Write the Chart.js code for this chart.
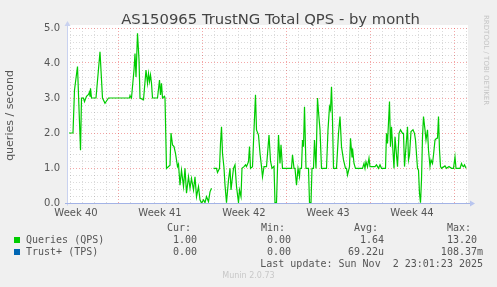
<!DOCTYPE html>
<html>
<head>
<meta charset="utf-8">
<script src="https://cdn.jsdelivr.net/npm/chart.js@4"></script>
<style>
  body { margin: 0; background: #f0f0f0; }
  #wrap { position: relative; width: 497px; height: 287px; overflow: hidden; }
  #munin-month { position: absolute; left: 0; top: 0; }
  .txt { position: absolute; white-space: pre; line-height: 12px; color: #555; }
  .mono { font-family: 'DejaVu Sans Mono', monospace; font-size: 10px; }
  .title { font-family: 'DejaVu Sans', sans-serif; font-size: 14.8px; line-height: 18px; color: #444; }
  .swatch { position: absolute; width: 6px; height: 6px; }
  .rrd { position: absolute; left: 482px; top: 15px; font-family: 'DejaVu Sans', sans-serif;
         font-size: 7px; color: #c4c4c4; writing-mode: vertical-rl; white-space: nowrap; }
  .munin { font-family: 'DejaVu Sans', sans-serif; font-size: 8px; color: #c8c8c8; }
</style>
</head>
<body>
<div id="wrap">
  <canvas id="munin-month" width="497" height="287"></canvas>
  <div class="txt title" style="left:0; width:541px; top:10px; text-align:center;">AS150965 TrustNG Total QPS - by month</div>
  <div class="rrd">RRDTOOL / TOBI OETIKER</div>
  <div id="legend"></div>
  <div class="txt munin" style="left:0; width:497px; top:270px; text-align:center;">Munin 2.0.73</div>
</div>
<script>
// hours since Mon Sep 29 00:00 (start of week 40), one entry per point
const hours = [
  70, 78, 81, 87, 93, 95, 99, 101, 105, 109, 111, 112, 113, 115,
  124, 132, 137, 142, 149, 191, 192, 195, 197, 200, 202, 204, 207, 210, 212,
  219, 224, 227, 229, 231, 233, 235, 237, 247, 251, 253, 255, 257, 261, 262,
  265, 272, 274, 277, 280, 283, 287, 289, 292, 295, 299, 302, 305, 309, 312,
  315, 319, 322, 325, 329, 332, 335, 339, 342, 345, 349, 352, 355,
  357,
  359, 365, 367, 371, 373, 375, 377, 380, 382, 385, 389, 392, 394, 397, 399,
  402, 405, 409, 411, 414, 416, 420, 423, 425, 429, 431, 433, 437, 440, 443,
  445, 449, 452, 455, 457, 460, 465, 470, 473, 476, 480, 482, 485,
  489, 492, 494, 497, 515, 517, 520, 522, 525, 528, 531, 532, 535, 537, 539,
  541, 544, 549, 551, 554, 556, 559, 561, 564, 567, 569, 572, 575, 585, 588,
  591, 593, 595, 597, 599, 605, 609, 612, 615, 617, 619, 623, 625, 627, 631,
  633, 636, 637, 640, 643, 657, 660, 662, 664, 667, 670, 672,
  682, 685, 689, 692, 695, 703, 705, 707, 711, 713, 715, 717, 720, 722, 725,
  727, 730, 733, 737, 739, 741, 744, 747, 749, 751, 754, 758, 761, 763, 767,
  769, 771, 773, 775, 777, 779, 782, 784, 787, 789, 792, 794, 797, 799, 802,
  805, 807, 809, 811, 813, 815, 822, 825, 830, 835, 839, 842, 844, 852, 855,
  857, 859, 861, 864
];
const qps = [
  2.0, 2.0, 3.23, 3.9, 1.51, 3.0, 3.0, 2.9, 3.05, 3.1, 3.17, 3.05, 3.28, 3.0,
  3.0, 4.32, 3.0, 2.85, 3.0, 3.0, 3.07, 3.0, 3.32, 3.8, 4.27, 3.6, 4.85, 4.1, 3.0,
  2.95, 3.8, 3.42, 3.7, 3.47, 3.66, 3.42, 3.0, 3.0, 3.51, 3.09, 3.42, 3.0, 3.05, 3.0,
  0.99, 1.08, 2.0, 1.66, 1.61, 1.42, 1.04, 1.11, 0.51, 0.94, 0.47, 0.99, 0.28, 0.75, 0.42,
  0.7, 0.37, 0.75, 0.18, 0.47, 0.09, 0, 0.09, 0.01, 0.18, 0.04, 0.32, 0.42,
  null,
  0.99, 0.99, 0.87, 0.99, 1.71, 2.18, 1.42, 1.0, 0.51, 0.01, 0.66, 0.99, 0.37, 0.75, 0.99,
  1.09, 0.47, 0.01, 0.37, 0.18, 0.99, 1.04, 1.09, 1.04, 1.18, 1.61, 0.99, 1.04, 2.09, 3.09,
  2.09, 1.94, 1.42, 1.04, 0.75, 1.04, 1.04, 1.94, 1.2, 0.99, 1.05, 0.01, 0.01,
  1.94, 1.13, 1.66, 0.99, 0.99, 1.38, 0.99, 0.99, 0.51, 0.99, 0.75, 0.99, 0.99, 1.8, 1.61,
  2.75, 0.99, 0.99, 0.01, 0.01, 0.99, 0.99, 1.8, 0.99, 3.0, 2.6, 2.09, 0.99, 0.99, 2.09,
  2.75, 2.66, 3.32, 2.38, 0.99, 0.99, 1.99, 2.47, 1.61, 1.42, 1.23, 0.99, 0.99, 0.8, 1.04,
  1.85, 1.32, 1.56, 1.13, 0.99, 0.99, 1.13, 0.99, 1.18, 1.04, 1.28, 1.04,
  1.04, 1.09, 0.99, 1.09, 0.99, 0.99, 1.99, 1.7, 2.9, 1.61, 2.18, 1.7, 0.99, 1.89, 1.37,
  1.04, 1.99, 2.09, 1.99, 1.99, 1.04, 1.61, 2.18, 1.23, 1.37, 2.04, 2.09, 1.99, 1.8, 0.99,
  0.94, 0.28, 0.01, 0.66, 1.89, 2.47, 2.09, 1.8, 2.09, 1.51, 1.04, 1.23, 1.13, 1.37, 1.8,
  1.85, 1.85, 2.47, 1.51, 1.04, 0.99, 1.06, 0.99, 1.04, 0.99, 0.99, 1.32, 0.99, 0.99, 1.13,
  1.06, 1.04, 1.09, 0.99
];
const tpsHours = [70, 864];
const tps = [0, 0];

const weekLabels = ['Week 40', 'Week 41', 'Week 42', 'Week 43', 'Week 44'];

const seriesNames = ['Queries (QPS)', 'Trust+ (TPS)'];
const seriesColors = ['#00cc00', '#0066b3'];
const curVals = ['1.00', '0.00'];
const minVals = ['0.00', '0.00'];
const avgVals = ['1.64', '69.22u'];
const maxVals = ['13.20', '108.37m'];
const lastUpdate = 'Last update: Sun Nov  2 23:01:23 2025';

const grey_text = '#555';
const minor_grid = 'rgba(0, 0, 0, 0.14)';
const major_grid = 'rgba(230, 60, 60, 0.45)';

// legend block under the graph, laid out on the monospace grid
const legend = document.getElementById('legend');
const CH = 6.02;
function put(text, left, centerY) {
  const d = document.createElement('div');
  d.className = 'txt mono';
  d.style.left = left + 'px';
  d.style.top = (centerY - 6) + 'px';
  d.textContent = text;
  legend.appendChild(d);
}
function putRight(text, right, centerY) {
  put(text, right - text.length * CH, centerY);
}
put('Cur:', 167, 228);
put('Min:', 261, 228);
put('Avg:', 354, 228);
put('Max:', 447, 228);
const rowY = [239.5, 251.5];
const maxRight = [477, 483];
seriesNames.forEach((name, i) => {
  const sw = document.createElement('div');
  sw.className = 'swatch';
  sw.style.left = '14px';
  sw.style.top = (rowY[i] - 3) + 'px';
  sw.style.background = seriesColors[i];
  legend.appendChild(sw);
  put(name, 26, rowY[i]);
  putRight(curVals[i], 197, rowY[i]);
  putRight(minVals[i], 291, rowY[i]);
  putRight(avgVals[i], 384, rowY[i]);
  putRight(maxVals[i], maxRight[i], rowY[i]);
});
putRight(lastUpdate, 483, 263.5);

const dayTicks = [];
for (let h = 72; h <= 864; h += 24) dayTicks.push(h);
const yTicks = [];
for (let i = 0; i <= 25; i++) yTicks.push(Math.round(i * 2) / 10);

// white plot area, then rrdtool style axes with arrows on top of the data
const munin_frame = {
  id: 'munin_frame',
  beforeDraw(chart) {
    const { ctx, chartArea: a } = chart;
    ctx.save();
    ctx.fillStyle = '#ffffff';
    ctx.fillRect(a.left, a.top - 3, a.right - a.left, a.bottom - a.top + 3);
    ctx.restore();
  },
  afterDatasetsDraw(chart) {
    const { ctx, chartArea: a } = chart;
    const x0 = Math.round(a.left) + 0.5;
    const y0 = Math.round(a.bottom) + 0.5;
    ctx.save();
    ctx.lineWidth = 1;
    ctx.strokeStyle = '#c9d2f0';
    ctx.beginPath();
    ctx.moveTo(x0, a.top - 4);
    ctx.lineTo(x0, y0 + 2);
    ctx.stroke();
    ctx.fillStyle = '#c9d2f0';
    ctx.beginPath();
    ctx.moveTo(x0 - 3, a.top - 2);
    ctx.lineTo(x0 + 3, a.top - 2);
    ctx.lineTo(x0, a.top - 7);
    ctx.closePath();
    ctx.fill();
    ctx.strokeStyle = '#a3b3e6';
    ctx.beginPath();
    ctx.moveTo(a.left - 2, y0);
    ctx.lineTo(a.right + 2, y0);
    ctx.stroke();
    ctx.fillStyle = '#b8c5ef';
    ctx.beginPath();
    ctx.moveTo(a.right + 2, y0 - 3);
    ctx.lineTo(a.right + 2, y0 + 3);
    ctx.lineTo(a.right + 7, y0);
    ctx.closePath();
    ctx.fill();
    ctx.restore();
  }
};

const isWhole = (v) => Math.abs(v - Math.round(v)) < 1e-6;

new Chart(document.getElementById('munin-month').getContext('2d'), {
  type: 'line',
  data: {
    datasets: [
      {
        label: seriesNames[1],
        data: tpsHours.map((h, i) => ({ x: h, y: tps[i] })),
        borderColor: seriesColors[1],
        borderWidth: 1,
        pointRadius: 0,
        clip: { left: 0, top: 0, right: 0, bottom: -1 },
        order: 2
      },
      {
        label: seriesNames[0],
        data: hours.map((h, i) => ({ x: h, y: qps[i] })),
        borderColor: seriesColors[0],
        borderWidth: 1.2,
        pointRadius: 0,
        tension: 0,
        spanGaps: false,
        order: 1
      }
    ]
  },
  options: {
    responsive: false,
    animation: false,
    events: [],
    layout: { padding: { top: 28, right: 29, bottom: 0, left: 0 } },
    plugins: {
      legend: { display: false },
      title: { display: false },
      tooltip: { enabled: false }
    },
    scales: {
      x: {
        type: 'linear',
        min: 66,
        max: 868,
        afterBuildTicks: (axis) => { axis.ticks = dayTicks.map(v => ({ value: v })); },
        afterFit: (axis) => { axis.height = 0; },
        ticks: { display: false },
        grid: {
          drawTicks: false,
          color: (ctx) => (ctx.tick && ctx.tick.value % 168 === 0 ? major_grid : minor_grid)
        },
        border: { display: false, dash: [1, 2] }
      },
      x2: {
        type: 'linear',
        position: 'bottom',
        min: 66,
        max: 868,
        afterBuildTicks: (axis) => { axis.ticks = weekLabels.map((w, i) => ({ value: 84 + 168 * i })); },
        afterFit: (axis) => { axis.height = 84; },
        ticks: {
          autoSkip: false,
          maxRotation: 0,
          padding: 4,
          color: grey_text,
          font: { family: 'DejaVu Sans', size: 10 },
          callback: (v, i) => weekLabels[i]
        },
        grid: { display: false, drawTicks: false },
        border: { display: false }
      },
      y: {
        min: 0,
        max: 5,
        afterBuildTicks: (axis) => { axis.ticks = yTicks.map(v => ({ value: v })); },
        afterFit: (axis) => { axis.width = 67; },
        ticks: {
          autoSkip: false,
          padding: 7,
          color: grey_text,
          font: { family: 'DejaVu Sans', size: 10 },
          callback: (v) => (isWhole(v) ? v.toFixed(1) : '')
        },
        grid: {
          drawTicks: false,
          color: (ctx) => (ctx.tick && isWhole(ctx.tick.value) ? major_grid : minor_grid)
        },
        border: { display: false, dash: [1, 2] },
        title: {
          display: true,
          text: 'queries / second',
          color: grey_text,
          font: { family: 'DejaVu Sans', size: 11 },
          padding: { top: 4, bottom: 0 }
        }
      }
    }
  },
  plugins: [munin_frame]
});
</script>
</body>
</html>
